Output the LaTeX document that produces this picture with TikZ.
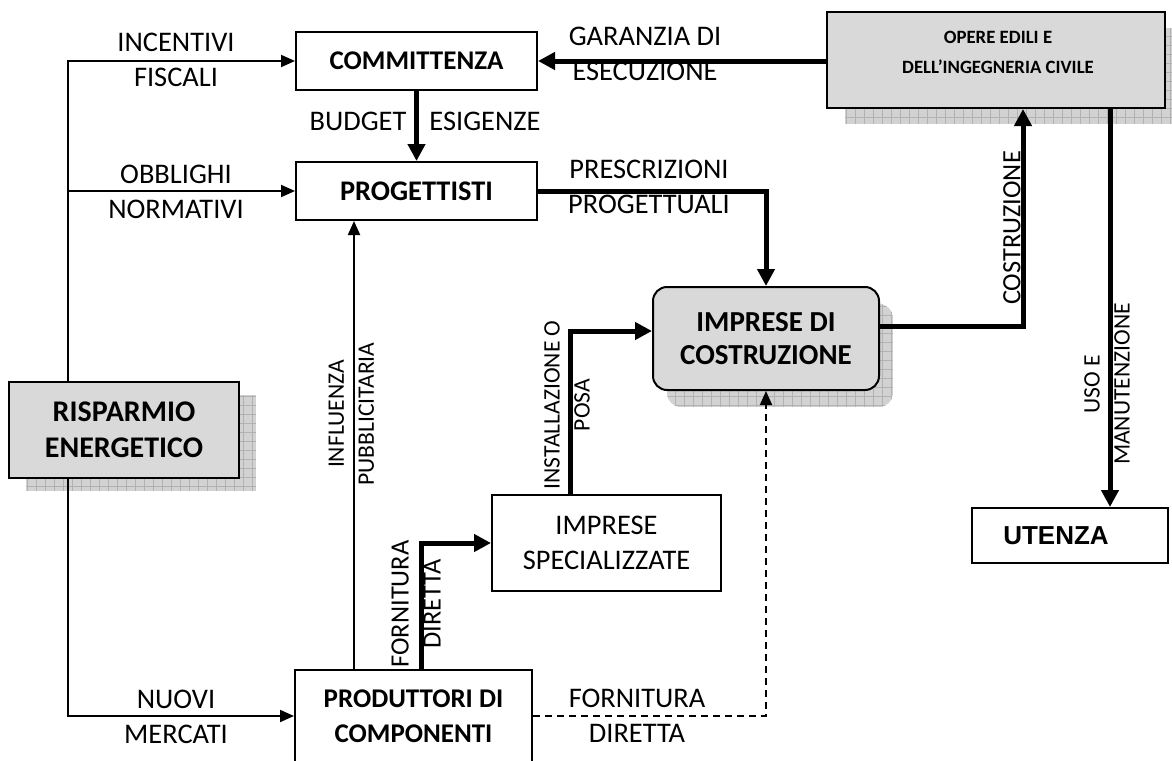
\documentclass[tikz,border=0pt]{standalone}
\usepackage{fontspec}
\setmainfont{Carlito}
\newfontfamily\arialf{Liberation Sans}
\usetikzlibrary{arrows.meta}
\begin{document}
\begin{tikzpicture}[x=0.5pt,y=-0.5pt,
 lbl/.style={inner sep=0pt, align=center, font=\fontsize{14.2}{17.5}\selectfont},
 rlbl/.style={inner sep=0pt, align=center, rotate=90, font=\fontsize{11.8}{15}\selectfont},
 rlblb/.style={inner sep=0pt, align=center, rotate=90, font=\fontsize{13.2}{16}\selectfont},
 bx/.style={draw, line width=1pt, inner sep=0pt, align=center, fill=white, font=\bfseries\fontsize{13.5}{17.5}\selectfont},
 gbx/.style={bx, fill=gray!30},
 tarr/.style={line width=1pt, -{Triangle[length=7pt,width=6pt]}},
 karr/.style={line width=2.5pt, -{Triangle[length=8.5pt,width=8.5pt]}},
 shd/.style={fill=gray!35},
 shgrid/.style={draw=gray!60, line width=0.3pt},
]
\useasboundingbox (0,0) rectangle (1172,760);

% shadows
\begin{scope}
\clip (26,395) rectangle (256,491);
\fill[shd] (26,395) rectangle (256,491);
\draw[shgrid, step=4.5pt] (26,395) grid (256,491);
\end{scope}
\begin{scope}
\clip (845,28) rectangle (1183,124);
\fill[shd] (845,28) rectangle (1183,124);
\draw[shgrid, step=4.5pt] (845,28) grid (1183,124);
\end{scope}
\begin{scope}
\clip[rounded corners=7pt] (667,304) rectangle (893,407);
\fill[shd] (667,304) rectangle (893,407);
\draw[shgrid, step=4.5pt] (667,304) grid (893,407);
\end{scope}

% boxes
\node[bx, minimum width=120.5pt, minimum height=29pt] (comm) at (416.5,61) {COMMITTENZA};
\node[bx, minimum width=120.5pt, minimum height=29pt, font=\bfseries\fontsize{14.2}{17.5}\selectfont] (prog) at (416.5,191) {PROGETTISTI};
\node[gbx, minimum width=169pt, minimum height=48pt] (opere) at (996,60) {};
\node[inner sep=0pt, align=center, font=\bfseries\fontsize{9.4}{15}\selectfont] (opereT) at (998,52) {OPERE EDILI E\\DELL’INGEGNERIA CIVILE};
\node[gbx, rounded corners=7pt, minimum width=113pt, minimum height=51.5pt, font=\bfseries\fontsize{14.5}{16.5}\selectfont] (imp) at (766,338.5) {IMPRESE DI\\COSTRUZIONE};
\node[gbx, minimum width=115pt, minimum height=48pt, font=\bfseries\fontsize{15}{18}\selectfont] (ris) at (124,430) {RISPARMIO\\ENERGETICO};
\node[bx, minimum width=114.5pt, minimum height=48pt, font=\fontsize{14.2}{17.5}\selectfont] (spec) at (606.5,543) {IMPRESE\\SPECIALIZZATE};
\node[bx, minimum width=98pt, minimum height=27.5pt, font=\arialf\bfseries\fontsize{13}{15}\selectfont] (ut) at (1070,535.5) {UTENZA\kern14pt};
\node[bx, minimum width=118.5pt, minimum height=46pt] (prod) at (413.5,716) {PRODUTTORI DI\\COMPONENTI};

% labels
\node[lbl] (l1) at (176,59.5) {INCENTIVI\\FISCALI};
\node[lbl] (l2) at (176,192) {OBBLIGHI\\NORMATIVI};
\node[lbl] (l3) at (176,717) {NUOVI\\MERCATI};
\node[lbl] (l4) at (645,53.5) {GARANZIA DI\\ESECUZIONE};
\node[lbl] (l5) at (649,187) {PRESCRIZIONI\\PROGETTUALI};
\node[lbl] (l6) at (358,121) {BUDGET};
\node[lbl] (l7) at (485,121) {ESIGENZE};
\node[lbl] (l8) at (637,716) {FORNITURA\\DIRETTA};
\node[rlbl] (l9) at (351.5,414) {INFLUENZA\\PUBBLICITARIA};
\node[rlblb] (l10) at (416,604) {FORNITURA\\DIRETTA};
\node[rlbl] (l11) at (567,405) {INSTALLAZIONE O\\POSA};
\node[rlblb] (l12) at (1012,228) {COSTRUZIONE};
\node[rlbl] (l13) at (1107,384) {USO E\\MANUTENZIONE};

% connectors
\coordinate (sp) at (68,191);
\coordinate (pinf) at (354,0);
\coordinate (pfd) at (421,0);
\coordinate (pins) at (570,331);
\coordinate (pcos) at (1023,326);
\coordinate (puso) at (1110,0);
\draw[tarr] (ris.north -| sp) |- (comm.west);
\draw[tarr] (sp) -- (prog.west);
\draw[tarr] (ris.south -| sp) |- (prod.west);
\draw[karr] (comm.south) -- (prog.north);
\draw[karr] (opere.west |- comm.east) -- (comm.east);
\draw[karr] (prog.east) -| (imp.north);
\draw[tarr] (prod.north -| pinf) -- (prog.south -| pinf);
\draw[karr] (prod.north -| pfd) |- (spec.west);
\draw[karr] (spec.north -| pins) |- (imp.west |- pins);
\draw[tarr, dashed, dash pattern=on 3.5pt off 2.5pt] (prod.east) -| (imp.south);
\draw[karr] (imp.east |- pcos) -| (opere.south -| pcos);
\draw[karr] (opere.south -| puso) -- (ut.north -| puso);
\end{tikzpicture}
\end{document}
